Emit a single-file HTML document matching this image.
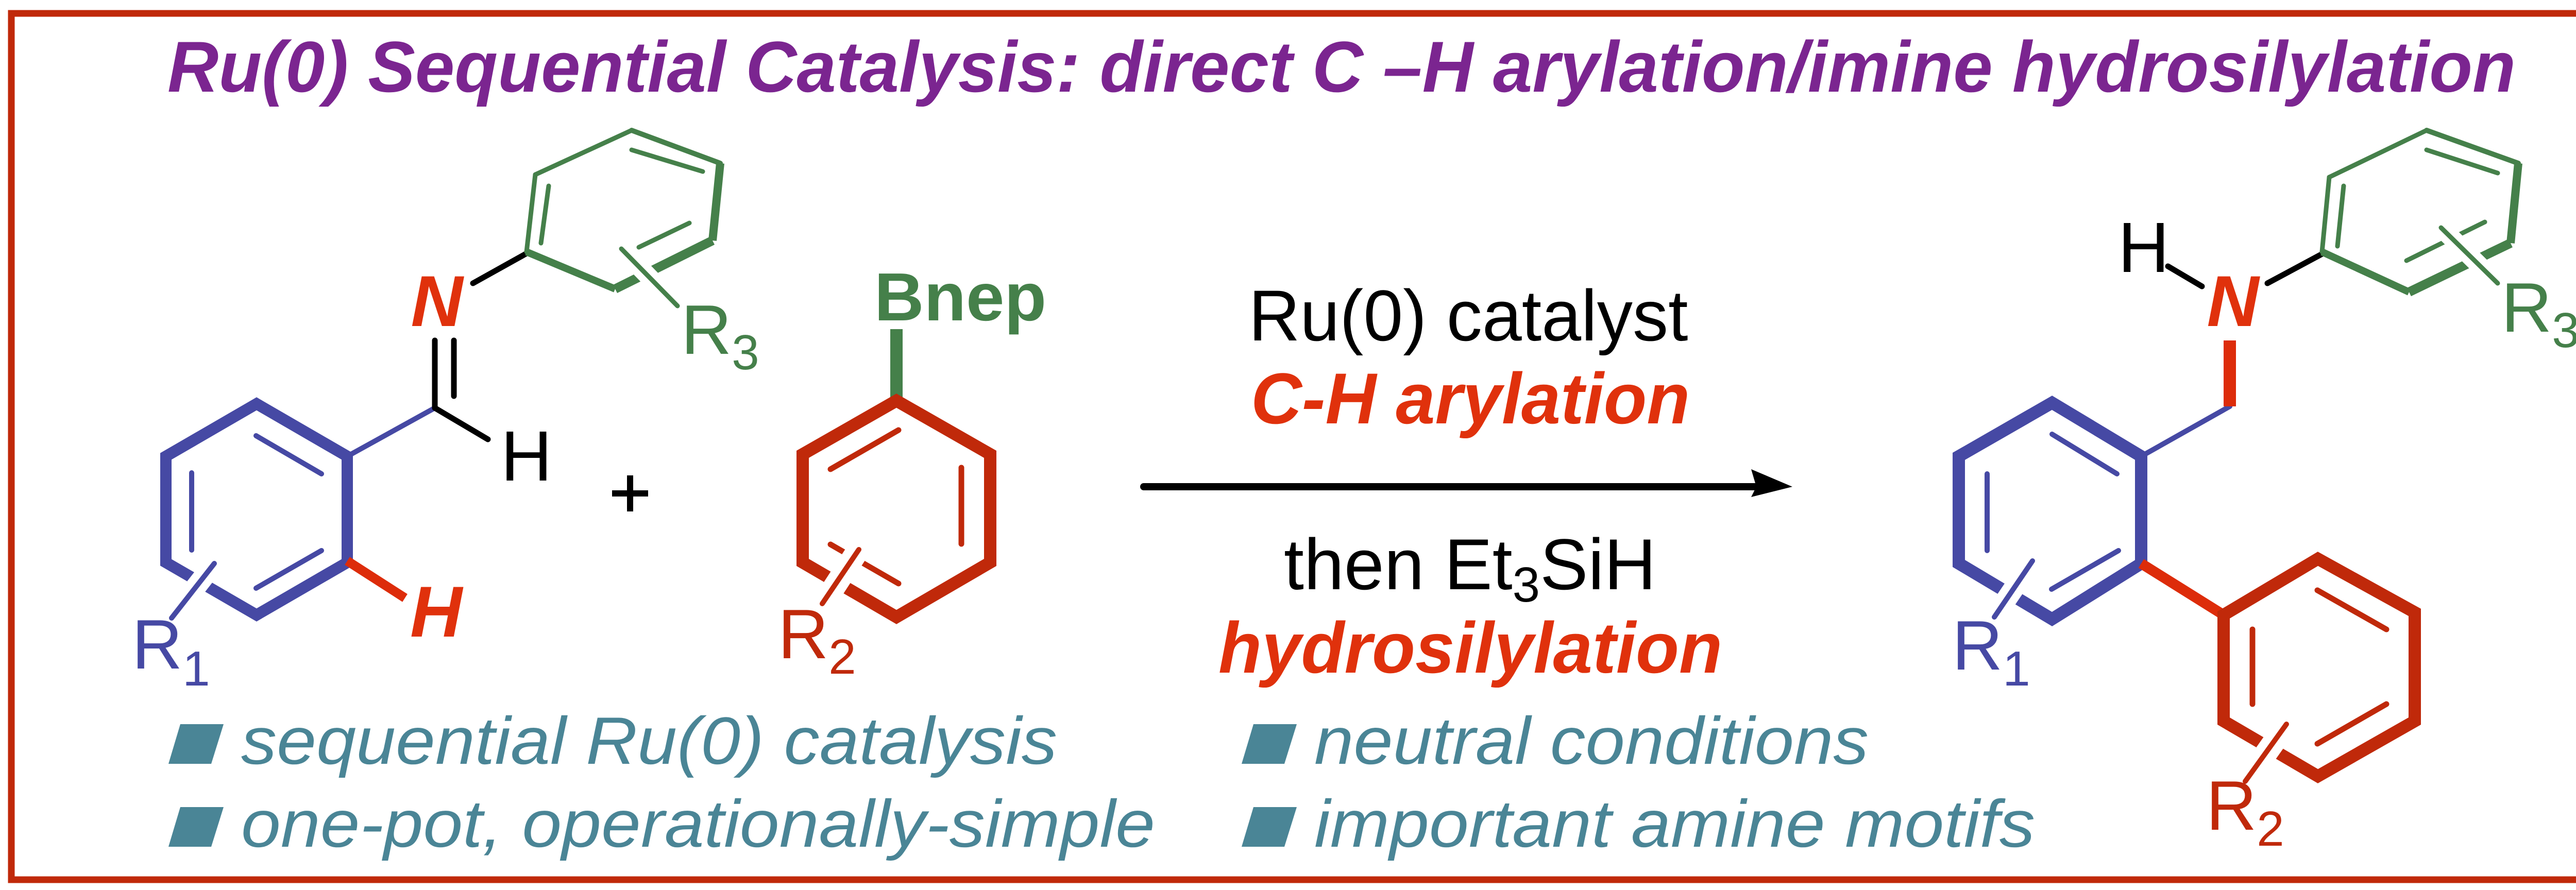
<!DOCTYPE html>
<html><head><meta charset="utf-8"><style>
html,body{margin:0;padding:0;background:#fff}
svg{display:block}
text{font-family:"Liberation Sans",Arial,sans-serif}
</style></head><body>
<svg width="5162" height="1728" viewBox="0 0 5162 1728" xmlns="http://www.w3.org/2000/svg">
<rect x="22" y="26" width="5112" height="1682" fill="none" stroke="#c0290a" stroke-width="13"/>
<text x="325" y="178" font-size="140" font-weight="bold" font-style="italic" fill="#7b2590" textLength="4558" lengthAdjust="spacingAndGlyphs">Ru(0) Sequential Catalysis: direct C –H arylation/imine hydrosilylation</text>

<!-- LEFT IMINE -->
<g stroke-linecap="round" fill="none">
 <polygon points="498,784 674,886 674,1092 498,1194 322,1092 322,886" stroke="#4649a4" stroke-width="22" stroke-linejoin="miter"/>
 <line x1="497" y1="846" x2="624" y2="920" stroke="#4649a4" stroke-width="10"/>
 <line x1="372" y1="918" x2="372" y2="1068" stroke="#4649a4" stroke-width="10"/>
 <line x1="497" y1="1142" x2="624" y2="1069" stroke="#4649a4" stroke-width="10"/>
 <line x1="311" y1="1228" x2="436" y2="1068" stroke="#fff" stroke-width="40" stroke-linecap="butt"/>
 <line x1="333" y1="1200" x2="416" y2="1094" stroke="#4649a4" stroke-width="10"/>
 <line x1="674" y1="886" x2="844" y2="792" stroke="#4649a4" stroke-width="10"/>
 <line x1="674" y1="1089" x2="786" y2="1161" stroke="#dd2c0a" stroke-width="18" stroke-linecap="butt"/>
 <line x1="844" y1="661" x2="844" y2="792" stroke="#000" stroke-width="11"/>
 <line x1="881" y1="661" x2="881" y2="769" stroke="#000" stroke-width="11"/>
 <line x1="844" y1="792" x2="947" y2="853" stroke="#000" stroke-width="11"/>
 <line x1="918" y1="550" x2="1022" y2="492" stroke="#000" stroke-width="11"/>
 <!-- green ring -->
 <line x1="1022" y1="489" x2="1039" y2="339" stroke="#45804a" stroke-width="9"/>
 <line x1="1039" y1="339" x2="1226" y2="253" stroke="#45804a" stroke-width="9"/>
 <line x1="1226" y1="253" x2="1398" y2="317" stroke="#45804a" stroke-width="10"/>
 <line x1="1398" y1="317" x2="1383" y2="467" stroke="#45804a" stroke-width="16" stroke-linecap="butt"/>
 <line x1="1383" y1="467" x2="1194" y2="561" stroke="#45804a" stroke-width="18" stroke-linecap="butt"/>
 <line x1="1194" y1="561" x2="1022" y2="489" stroke="#45804a" stroke-width="14" stroke-linecap="butt"/>
 <line x1="1065" y1="361" x2="1050" y2="472" stroke="#45804a" stroke-width="9"/>
 <line x1="1226" y1="291" x2="1364" y2="333" stroke="#45804a" stroke-width="9"/>
 <line x1="1240" y1="480" x2="1338" y2="433" stroke="#45804a" stroke-width="9"/>
 <line x1="1190" y1="466" x2="1330" y2="610" stroke="#fff" stroke-width="36" stroke-linecap="butt"/>
 <line x1="1206" y1="483" x2="1315" y2="594" stroke="#45804a" stroke-width="9"/>
</g>
<text x="848" y="633" font-size="140" font-weight="bold" font-style="italic" fill="#e0310c" text-anchor="middle">N</text>
<text x="972" y="933" font-size="138" fill="#000">H</text>
<text x="796" y="1236" font-size="140" font-weight="bold" font-style="italic" fill="#e0310c">H</text>
<text x="256" y="1298" font-size="136" fill="#4649a4">R<tspan font-size="96" dy="33">1</tspan></text>
<text x="1322" y="687" font-size="136" fill="#45804a">R<tspan font-size="96" dy="30">3</tspan></text>
<g stroke="#000" stroke-width="12"><line x1="1188" y1="958" x2="1258" y2="958"/><line x1="1223" y1="923" x2="1223" y2="993"/></g>

<!-- BORONATE -->
<text x="1697" y="622" font-size="132" font-weight="bold" fill="#45804a" textLength="334" lengthAdjust="spacingAndGlyphs">Bnep</text>
<line x1="1740" y1="639" x2="1740" y2="778" stroke="#45804a" stroke-width="24"/>
<g fill="none" stroke-linecap="round">
 <polygon points="1740,778 1922,882 1922,1092 1740,1198 1558,1092 1558,882" stroke="#c0290a" stroke-width="24" stroke-linejoin="miter"/>
 <line x1="1612" y1="911" x2="1744" y2="835" stroke="#c0290a" stroke-width="11"/>
 <line x1="1866" y1="908" x2="1866" y2="1056" stroke="#c0290a" stroke-width="11"/>
 <line x1="1612" y1="1057" x2="1744" y2="1133" stroke="#c0290a" stroke-width="11"/>
 <line x1="1580" y1="1200" x2="1684" y2="1040" stroke="#fff" stroke-width="44" stroke-linecap="butt"/>
 <line x1="1596" y1="1172" x2="1667" y2="1067" stroke="#c0290a" stroke-width="10"/>
</g>
<text x="1510" y="1278" font-size="136" fill="#c0290a">R<tspan font-size="96" dy="30">2</tspan></text>

<!-- ARROW + CONDITIONS -->
<text x="2850" y="661" font-size="140" fill="#000" text-anchor="middle" textLength="853" lengthAdjust="spacingAndGlyphs">Ru(0) catalyst</text>
<text x="2854" y="822" font-size="140" font-weight="bold" font-style="italic" fill="#e0310c" text-anchor="middle" textLength="852" lengthAdjust="spacingAndGlyphs">C-H arylation</text>
<line x1="2220" y1="945" x2="3420" y2="945" stroke="#000" stroke-width="14" stroke-linecap="round"/>
<polygon points="3399,911 3479,945 3399,965 3409,945" fill="#000"/>
<text x="2492" y="1144" font-size="140" fill="#000">then Et<tspan font-size="96" dy="24">3</tspan><tspan dy="-24">SiH</tspan></text>
<text x="2854" y="1306" font-size="140" font-weight="bold" font-style="italic" fill="#e0310c" text-anchor="middle" textLength="978" lengthAdjust="spacingAndGlyphs">hydrosilylation</text>

<!-- BULLETS -->
<g fill="#4a8596">
 <polygon points="327,1483 350,1406 434,1406 410,1483"/>
 <polygon points="327,1644 350,1567 434,1567 410,1644"/>
 <polygon points="2410,1483 2433,1406 2517,1406 2493,1483"/>
 <polygon points="2410,1644 2433,1567 2517,1567 2493,1644"/>
</g>
<g font-size="130" font-style="italic" fill="#4a8596">
 <text x="468" y="1483" textLength="1584" lengthAdjust="spacingAndGlyphs">sequential Ru(0) catalysis</text>
 <text x="468" y="1644" textLength="1774" lengthAdjust="spacingAndGlyphs">one-pot, operationally-simple</text>
 <text x="2551" y="1483" textLength="1076" lengthAdjust="spacingAndGlyphs">neutral conditions</text>
 <text x="2551" y="1644" textLength="1399" lengthAdjust="spacingAndGlyphs">important amine motifs</text>
</g>

<!-- PRODUCT -->
<g fill="none" stroke-linecap="round">
 <polygon points="3983,782 4156,886 4156,1094 3983,1202 3802,1094 3802,886" stroke="#4649a4" stroke-width="24" stroke-linejoin="miter"/>
 <line x1="3983" y1="843" x2="4109" y2="920" stroke="#4649a4" stroke-width="10"/>
 <line x1="3857" y1="920" x2="3857" y2="1069" stroke="#4649a4" stroke-width="10"/>
 <line x1="3982" y1="1144" x2="4112" y2="1069" stroke="#4649a4" stroke-width="10"/>
 <line x1="3852" y1="1226" x2="3966" y2="1058" stroke="#fff" stroke-width="40" stroke-linecap="butt"/>
 <line x1="3871" y1="1198" x2="3945" y2="1089" stroke="#4649a4" stroke-width="10"/>
 <line x1="4156" y1="886" x2="4328" y2="789" stroke="#4649a4" stroke-width="10"/>
 <line x1="4328" y1="661" x2="4328" y2="789" stroke="#dd2c0a" stroke-width="24" stroke-linecap="butt"/>
 <line x1="4156" y1="1094" x2="4316" y2="1194" stroke="#dd2c0a" stroke-width="20" stroke-linecap="butt"/>
 <polygon points="4316,1194 4499,1085 4687,1189 4687,1400 4499,1507 4316,1400" stroke="#c0290a" stroke-width="24" stroke-linejoin="miter"/>
 <line x1="4498" y1="1146" x2="4632" y2="1222" stroke="#c0290a" stroke-width="11"/>
 <line x1="4372" y1="1222" x2="4372" y2="1367" stroke="#c0290a" stroke-width="11"/>
 <line x1="4498" y1="1444" x2="4632" y2="1367" stroke="#c0290a" stroke-width="11"/>
 <line x1="4340" y1="1545" x2="4458" y2="1378" stroke="#fff" stroke-width="44" stroke-linecap="butt"/>
 <line x1="4358" y1="1517" x2="4438" y2="1406" stroke="#c0290a" stroke-width="10"/>
 <line x1="4208" y1="517" x2="4274" y2="556" stroke="#000" stroke-width="11"/>
 <line x1="4401" y1="550" x2="4509" y2="492" stroke="#000" stroke-width="11"/>
 <line x1="4507" y1="489" x2="4521" y2="344" stroke="#45804a" stroke-width="9"/>
 <line x1="4521" y1="344" x2="4710" y2="253" stroke="#45804a" stroke-width="9"/>
 <line x1="4710" y1="253" x2="4888" y2="317" stroke="#45804a" stroke-width="10"/>
 <line x1="4888" y1="317" x2="4873" y2="472" stroke="#45804a" stroke-width="16" stroke-linecap="butt"/>
 <line x1="4873" y1="472" x2="4676" y2="567" stroke="#45804a" stroke-width="18" stroke-linecap="butt"/>
 <line x1="4676" y1="567" x2="4507" y2="489" stroke="#45804a" stroke-width="14" stroke-linecap="butt"/>
 <line x1="4549" y1="361" x2="4537" y2="478" stroke="#45804a" stroke-width="9"/>
 <line x1="4710" y1="291" x2="4848" y2="336" stroke="#45804a" stroke-width="9"/>
 <line x1="4671" y1="506" x2="4823" y2="431" stroke="#45804a" stroke-width="9"/>
 <line x1="4722" y1="426" x2="4864" y2="566" stroke="#fff" stroke-width="36" stroke-linecap="butt"/>
 <line x1="4738" y1="442" x2="4848" y2="550" stroke="#45804a" stroke-width="9"/>
</g>
<text x="4111" y="528" font-size="138" fill="#000">H</text>
<text x="4334" y="633" font-size="140" font-weight="bold" font-style="italic" fill="#e0310c" text-anchor="middle">N</text>
<text x="4855" y="644" font-size="136" fill="#45804a">R<tspan font-size="96" dy="30">3</tspan></text>
<text x="3789" y="1300" font-size="136" fill="#4649a4">R<tspan font-size="96" dy="31">1</tspan></text>
<text x="4282" y="1611" font-size="136" fill="#c0290a">R<tspan font-size="96" dy="31">2</tspan></text>
</svg>
</body></html>
